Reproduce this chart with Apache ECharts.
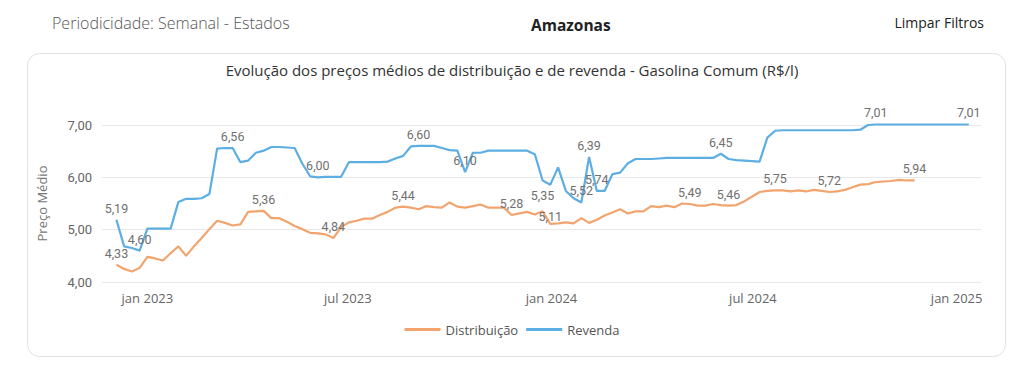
<!DOCTYPE html>
<html><head><meta charset="utf-8">
<script src="https://cdn.jsdelivr.net/npm/echarts@6/dist/echarts.min.js"></script>
<style>html,body{margin:0;padding:0;background:#fff;}#c{width:1024px;height:372px;}</style>
</head><body><div id="c"></div>
<script>
const weeks = [
'2022-12-04','2022-12-11','2022-12-18','2022-12-25',
'2023-01-01','2023-01-08','2023-01-15','2023-01-22','2023-01-29',
'2023-02-05','2023-02-12','2023-02-19','2023-02-26',
'2023-03-05','2023-03-12','2023-03-19','2023-03-26',
'2023-04-02','2023-04-09','2023-04-16','2023-04-23','2023-04-30',
'2023-05-07','2023-05-14','2023-05-21','2023-05-28',
'2023-06-04','2023-06-11','2023-06-18','2023-06-25',
'2023-07-02','2023-07-09','2023-07-16','2023-07-23','2023-07-30',
'2023-08-06','2023-08-13','2023-08-20','2023-08-27',
'2023-09-03','2023-09-10','2023-09-17','2023-09-24',
'2023-10-01','2023-10-08','2023-10-15','2023-10-22','2023-10-29',
'2023-11-05','2023-11-12','2023-11-19','2023-11-26',
'2023-12-03','2023-12-10','2023-12-17','2023-12-24','2023-12-31',
'2024-01-07','2024-01-14','2024-01-21','2024-01-28',
'2024-02-04','2024-02-11','2024-02-18','2024-02-25',
'2024-03-03','2024-03-10','2024-03-17','2024-03-24','2024-03-31',
'2024-04-07','2024-04-14','2024-04-21','2024-04-28',
'2024-05-05','2024-05-12','2024-05-19','2024-05-26',
'2024-06-02','2024-06-09','2024-06-16','2024-06-23','2024-06-30',
'2024-07-07','2024-07-14','2024-07-21','2024-07-28',
'2024-08-04','2024-08-11','2024-08-18','2024-08-25',
'2024-09-01','2024-09-08','2024-09-15','2024-09-22','2024-09-29',
'2024-10-06','2024-10-13','2024-10-20','2024-10-27',
'2024-11-03','2024-11-10','2024-11-17','2024-11-24',
'2024-12-01','2024-12-08','2024-12-15','2024-12-22','2024-12-29',
'2025-01-05','2025-01-12'
];
const revenda = [
5.19,4.68,4.65,4.60,5.02,5.02,5.02,5.02,5.53,5.59,
5.59,5.60,5.68,6.55,6.56,6.56,6.29,6.32,6.47,6.51,
6.58,6.58,6.57,6.56,6.26,6.02,6.00,6.01,6.01,6.01,
6.29,6.29,6.29,6.29,6.29,6.30,6.36,6.41,6.59,6.60,
6.60,6.60,6.56,6.52,6.51,6.10,6.47,6.47,6.51,6.51,
6.51,6.51,6.51,6.51,6.44,5.94,5.86,6.19,5.74,5.60,
5.52,6.39,5.74,5.74,6.06,6.09,6.27,6.35,6.35,6.35,
6.36,6.37,6.37,6.37,6.37,6.37,6.37,6.37,6.45,6.35,
6.33,6.32,6.31,6.30,6.76,6.89,6.90,6.90,6.90,6.90,
6.90,6.90,6.90,6.90,6.90,6.90,6.91,7.00,7.01,7.01,
7.01,7.01,7.01,7.01,7.01,7.01,7.01,7.01,7.01,7.01,
7.01
];
const distribuicao = [
4.33,4.25,4.20,4.27,4.48,4.45,4.41,4.55,4.68,4.50,
4.68,4.84,5.01,5.17,5.13,5.08,5.10,5.34,5.35,5.36,
5.22,5.22,5.15,5.07,5.01,4.94,4.93,4.91,4.84,5.05,
5.14,5.17,5.21,5.21,5.28,5.34,5.42,5.44,5.42,5.39,
5.45,5.43,5.42,5.52,5.44,5.42,5.45,5.48,5.42,5.42,
5.42,5.28,5.31,5.34,5.29,5.35,5.11,5.12,5.14,5.12,
5.22,5.13,5.19,5.27,5.33,5.39,5.31,5.35,5.35,5.45,
5.43,5.46,5.43,5.50,5.49,5.46,5.46,5.49,5.47,5.46,
5.47,5.54,5.63,5.72,5.74,5.75,5.75,5.73,5.75,5.73,
5.76,5.74,5.72,5.73,5.76,5.81,5.86,5.87,5.91,5.92,
5.93,5.95,5.94,5.94
];
const revendaLabelIdx = [0,3,15,26,39,45,60,61,62,78,98,110];
const distribLabelIdx = [0,19,28,37,51,55,56,74,79,85,92,103];
const xTicks = ['2023-01-01','2023-07-01','2024-01-01','2024-07-01','2025-01-01'];
const monthNames = ['jan','fev','mar','abr','mai','jun','jul','ago','set','out','nov','dez'];

// label distance tweaks so that the two close labels near jan 2024 don't collide
const distribLabelDist = {55:9, 56:1};

function toDate(s){const p=s.split('-').map(Number);return new Date(p[0],p[1]-1,p[2]).getTime();}
function fmt(v){return v.toFixed(2).replace('.',',');}
function build(vals, labelIdx, distMap){
  return vals.map((v,i)=>{
    const lab = {show:labelIdx.indexOf(i)>=0};
    if (distMap && distMap[i] !== undefined) lab.distance = distMap[i];
    return {value:[toDate(weeks[i]),v], label:lab};
  });
}
const chart = echarts.init(document.getElementById('c'), null, {renderer:'svg'});
const numFont = 'Roboto, "DejaVu Sans", sans-serif';
const uiFont = '"Open Sans","Noto Sans", sans-serif';
chart.setOption({
  animation:false,
  graphic:[
    {type:'rect', shape:{x:27.5,y:53.5,width:978,height:303,r:12}, style:{fill:'#fff',stroke:'#e1e1e1',lineWidth:1}, z:-10},
    {type:'text', left:52, top:15, style:{text:'Periodicidade: Semanal - Estados', font:'300 16px '+uiFont, fill:'#555'}},
    {type:'text', left:531, top:17, style:{text:'Amazonas', font:'bold 15.5px '+uiFont, fill:'#222'}},
    {type:'text', right:40, top:15, style:{text:'Limpar Filtros', font:'14px '+uiFont, fill:'#222'}},
    {type:'text', left:'center', top:62, style:{text:'Evolução dos preços médios de distribuição e de revenda - Gasolina Comum (R$/l)', font:'15px '+uiFont, fill:'#333'}}
  ],
  legend:{
    top:318, left:'center', icon:'rect', itemWidth:36, itemHeight:3, itemGap:8,
    textStyle:{color:'#555', fontSize:13, fontFamily:uiFont},
    data:['Distribuição','Revenda']
  },
  grid:{left:102, right:43, top:125, bottom:90, containLabel:false},
  xAxis:{
    type:'value',
    min:toDate('2022-11-21'), max:toDate('2025-01-23'),
    axisLine:{show:false}, axisTick:{show:false}, splitLine:{show:false},
    axisLabel:{
      customValues: xTicks.map(toDate),
      color:'#666', fontSize:13, fontFamily:uiFont, margin:9,
      formatter:function(v){const d=new Date(v);return monthNames[d.getMonth()]+' '+d.getFullYear();}
    }
  },
  yAxis:{
    type:'value', min:4, max:7, interval:1,
    name:'Preço Médio', nameLocation:'middle', nameGap:54,
    nameTextStyle:{color:'#777', fontSize:13, fontFamily:uiFont},
    axisLine:{show:false}, axisTick:{show:false},
    splitLine:{lineStyle:{color:'#e9e9e9', width:1}},
    axisLabel:{color:'#666', fontSize:13, fontFamily:numFont, margin:10, formatter:fmt}
  },
  series:[
    {name:'Distribuição', type:'line', data:build(distribuicao, distribLabelIdx, distribLabelDist),
     symbol:'circle', symbolSize:0, showAllSymbol:true, clip:false,
     lineStyle:{color:'#F2A46E', width:2.2}, itemStyle:{color:'#F2A46E'},
     label:{position:'top', distance:5, color:'#707070', fontSize:12.5, fontFamily:numFont, formatter:p=>fmt(p.value[1])}},
    {name:'Revenda', type:'line', data:build(revenda, revendaLabelIdx, null),
     symbol:'circle', symbolSize:0, showAllSymbol:true, clip:false,
     lineStyle:{color:'#5DAEE2', width:2.2}, itemStyle:{color:'#5DAEE2'},
     label:{position:'top', distance:5, color:'#707070', fontSize:12.5, fontFamily:numFont, formatter:p=>fmt(p.value[1])}}
  ]
});
</script>
</body></html>
